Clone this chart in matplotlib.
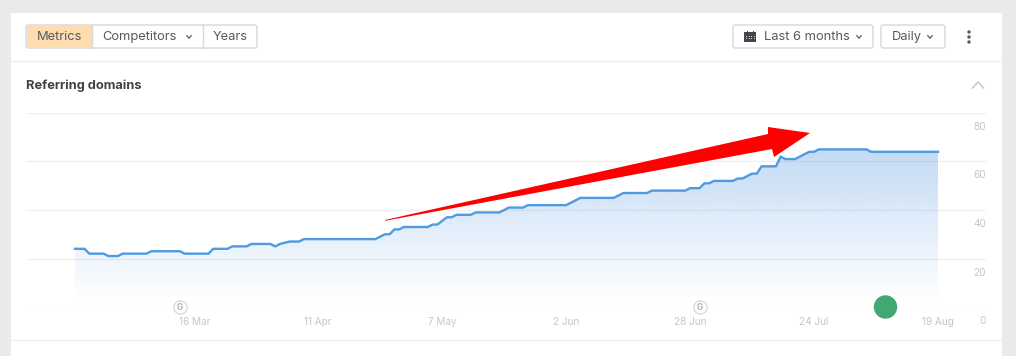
import numpy as np
import matplotlib
matplotlib.use("Agg")
import matplotlib.pyplot as plt
from matplotlib.patches import Rectangle, FancyBboxPatch, Circle, Polygon
from matplotlib.transforms import ScaledTranslation

plt.rcParams['font.family'] = ['Inter', 'DejaVu Sans']

# days since 19 Feb, only the days where the line changes
days = [0, 2, 3, 6, 7, 9, 10, 15, 16, 22, 23, 28, 29, 32, 33, 36, 37, 41, 42, 43, 45, 47, 48,
        63, 65, 66, 67, 68, 69, 74, 75, 76, 78, 79, 80, 83, 84, 89, 91, 94, 95, 103, 106,
        113, 115, 120, 121, 128, 129, 131, 132, 133, 134, 138, 139, 140, 142, 143, 144,
        147, 148, 149, 151, 154, 155, 156, 166, 167, 181]
domains = [24, 24, 22, 22, 21, 21, 22, 22, 23, 23, 22, 22, 24, 24, 25, 25, 26, 26, 25, 26, 27, 27, 28,
           28, 30, 30, 32, 32, 33, 33, 34, 34, 37, 37, 38, 38, 39, 39, 41, 41, 42, 42, 45,
           45, 47, 47, 48, 48, 49, 49, 51, 51, 52, 52, 53, 53, 55, 55, 58,
           58, 62, 61, 61, 64, 64, 65, 65, 64, 64]

x_ticks = [25, 51, 77, 103, 129, 155, 181]
x_labels = ["16 Mar", "11 Apr", "7 May", "2 Jun", "28 Jun", "24 Jul", "19 Aug"]
y_ticks = [0, 20, 40, 60, 80]
update_days = [22, 131]

W, H = 1016, 356
fig = plt.figure(figsize=(W / 100, H / 100), dpi=100, facecolor="#e9eaec")

# page furniture, in pixel coordinates
ui = fig.add_axes([0, 0, 1, 1], zorder=0)
ui.set_xlim(0, W)
ui.set_ylim(H, 0)
ui.axis("off")

ui.add_patch(Rectangle((11, 13), 991, 343, fc="white", ec="none"))
ui.plot([11, 1002], [61, 61], color="#efefef", lw=1)
ui.plot([11, 1002], [340, 340], color="#efefef", lw=1)


def button(x0, x1, fc="white"):
    ui.add_patch(FancyBboxPatch((x0, 25), x1 - x0, 23, boxstyle="round,pad=0,rounding_size=2.5",
                                fc=fc, ec="#d6d8da", lw=1))


def chevron(cx, cy, w=2.2, h=1.3, up=False, color="#555b62", lw=0.9):
    s = -1 if up else 1
    ui.plot([cx - w, cx, cx + w], [cy - s * h, cy + s * h, cy - s * h], color=color, lw=lw)


button(26, 257)
ui.add_patch(FancyBboxPatch((27, 25), 65, 23, boxstyle="round,pad=0,rounding_size=2",
                            fc="#ffdcb0", ec="none"))
ui.plot([203, 203], [25, 48], color="#d6d8da", lw=1)
ui.plot([92, 92], [25, 48], color="#d6d8da", lw=1)
button(733, 873)
button(881, 945)

txt = dict(fontsize=9.3, va="center", color="#555b62")
ui.text(36.5, 37.3, "Metrics", **txt)
ui.text(102, 37.3, "Competitors", **txt)
chevron(189, 37)
ui.text(213, 37.3, "Years", **txt)
ui.text(764, 37.3, "Last 6 months", **txt)
chevron(859, 37)
ui.text(892, 37.3, "Daily", **txt)
chevron(930, 37)

# calendar icon and menu dots
ui.add_patch(Rectangle((744, 32), 12, 10, fc="#41464c", ec="none"))
for px in [746.5, 753]:
    ui.add_patch(Rectangle((px, 30.5), 1.2, 2, fc="#41464c", ec="none"))
for gx in [746, 748.5, 751, 753.5]:
    for gy in [35.5, 38]:
        ui.add_patch(Rectangle((gx, gy), 1.2, 1.2, fc="#c9cbcd", ec="none"))
for dy in [32, 37, 42]:
    ui.add_patch(Circle((969, dy), 1.7, fc="#555b62", ec="none"))

ui.text(26, 85.8, "Referring domains", fontsize=9.25, fontweight="bold", va="center", color="#3f4347")
chevron(978, 85, w=5.5, h=3, up=True, color="#c9cbcd", lw=1.2)

# chart area
px_per_day = 863 / 181
ax = fig.add_axes([26 / W, 1 - 307 / H, 960 / W, 194 / H], zorder=1)
ax.patch.set_alpha(0)
for s in ax.spines.values():
    s.set_visible(False)
ax.grid(axis="y", color="#f0f0f0", lw=1)
ax.set_axisbelow(True)

ax.yaxis.tick_right()
ax.set_yticks(y_ticks)
ax.set_xticks(x_ticks)
ax.set_xticklabels(x_labels)
ax.tick_params(axis="both", length=0, labelsize=7.2, labelcolor="#c4c6c8")
ax.tick_params(axis="x", pad=7.2)
ax.tick_params(axis="y", pad=0)
shift = ScaledTranslation(0, -9 / 100, fig.dpi_scale_trans)
for lab in ax.get_yticklabels():
    lab.set_ha("right")
    lab.set_va("top")
    lab.set_transform(lab.get_transform() + shift)

# area under the line fades out towards the bottom
area = ax.fill_between(days, domains, 0, fc="none", ec="none")
grad = np.zeros((256, 1, 4))
grad[:, 0, :3] = matplotlib.colors.to_rgb("#4a90e0")
grad[:, 0, 3] = np.linspace(0.33, 0, 256)
im = ax.imshow(grad, extent=(0, 181, 3, 65), origin="upper", aspect="auto", zorder=1.5)
im.set_clip_path(area.get_paths()[0], transform=ax.transData)
ax.set_xlim((26 - 75) / px_per_day, (986 - 75) / px_per_day)
ax.set_ylim(0, 80)

ax.plot(days, domains, color="#4f9ae0", lw=1.7, zorder=3, solid_joinstyle="round")

# google update markers
ax.scatter(update_days, [0, 0], s=90, fc="white", ec="#dadada", lw=1, zorder=4, clip_on=False)
for d in update_days:
    ax.text(d, 0, "G", fontsize=6, fontweight="bold", color="#b0b0b0", ha="center", va="center", zorder=5)

# overlay for the drawn-on arrow and green dot
over = fig.add_axes([0, 0, 1, 1], zorder=2)
over.set_xlim(0, W)
over.set_ylim(H, 0)
over.axis("off")
over.add_patch(Polygon([(385, 220), (768, 134), (768, 127), (810, 133), (774, 157), (772, 149), (385, 220.8)],
                       fc="#ff0000", ec="none"))
over.add_patch(Circle((885.5, 307), 11.7, fc="#41a873", ec="none"))

fig.savefig("out.png", dpi=100, facecolor=fig.get_facecolor())
